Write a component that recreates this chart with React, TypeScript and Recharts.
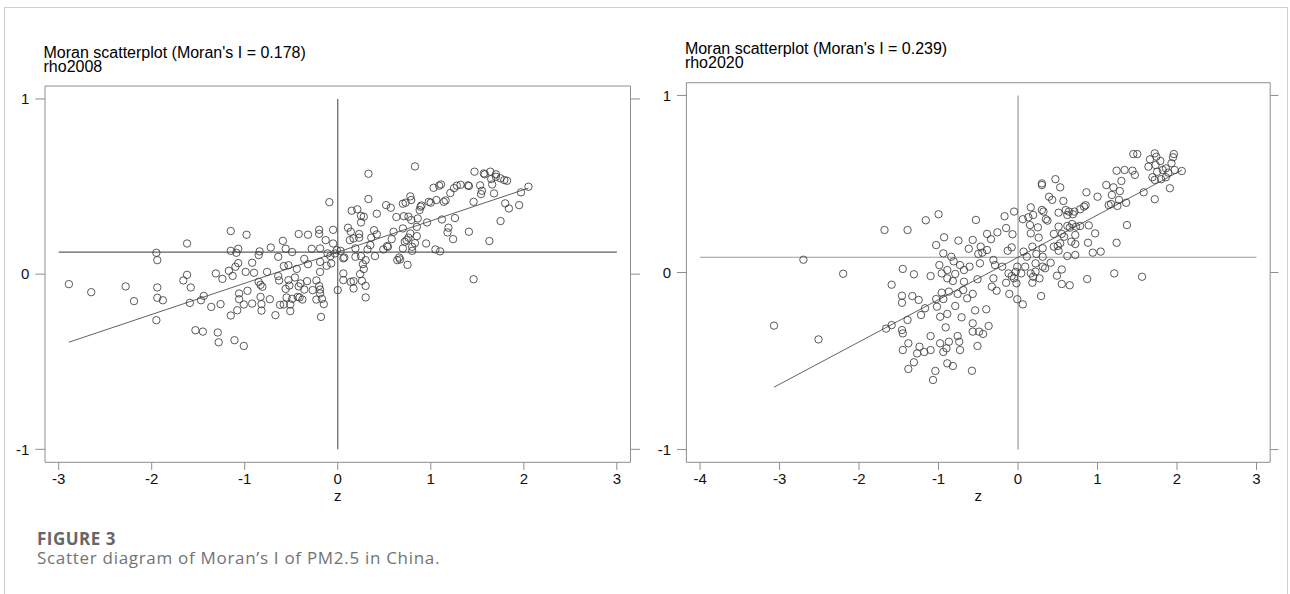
import { ScatterChart, Scatter, XAxis, YAxis, ReferenceLine } from "recharts"

// rho2008: standardised PM2.5 (z) against its spatial lag
const z2008 = [
  -2.89, -2.65, -2.28, -2.19, -1.95, -1.94, -1.94, -1.94, -1.88, -1.95, -1.62, -1.62, -1.66, -1.58, -1.59, -1.47,
  -1.44, -1.53, -1.45, -1.36, -1.31, -1.29, -1.28, -1.26, -1.24, -1.15, -1.15, -1.17, -1.13, -1.1, -1.07, -1.09,
  -1.07, -1.15, -1.08, -1.06, -1.06, -1.11, -1.01, -0.98, -0.99, -0.97, -1.01, -0.92, -0.92, -0.9, -0.84, -0.85,
  -0.85, -0.83, -0.81, -0.83, -0.82, -0.82, -0.76, -0.72, -0.73, -0.67, -0.64, -0.63, -0.64, -0.59, -0.56, -0.58,
  -0.53, -0.56, -0.55, -0.53, -0.52, -0.62, -0.58, -0.51, -0.51, -0.49, -0.49, -0.46, -0.44, -0.42, -0.42, -0.4,
  -0.41, -0.43, -0.38, -0.36, -0.36, -0.33, -0.32, -0.32, -0.28, -0.27, -0.23, -0.23, -0.2, -0.2, -0.19, -0.19,
  -0.19, -0.2, -0.19, -0.19, -0.17, -0.15, -0.18, -0.13, -0.12, -0.11, -0.05, -0.05, -0.07, -0.08, -0.03, 0.0,
  -0.01, -0.09,
  0.33, 0.83, 0.33, 0.15, 0.21, 0.25, 0.28, 0.25, 0.42, 0.52, 0.57, 0.63, 0.7, 0.73, 0.78, 0.79,
  0.71, 0.76, 0.79, 0.86, 0.89, 0.9, 0.88, 0.98, 1.0, 1.06, 1.03, 1.09, 1.11, 1.14, 1.16, 1.21,
  1.25, 1.28, 1.32, 1.4, 1.41, 1.46, 1.47, 1.53, 1.55, 1.54, 1.57, 1.58, 1.64, 1.65, 1.66, 1.68,
  1.7, 1.7, 1.75, 1.79, 1.82, 1.8, 1.84, 1.95, 1.97, 2.05, 1.75, 1.63, 1.41, 1.26, 1.24, 1.19,
  1.18, 1.12, 0.96, 0.95, 1.05, 1.1, 0.85, 0.85, 0.83, 0.78, 0.76, 0.74, 0.72, 0.8, 0.8, 0.7,
  0.6, 0.58, 0.53, 0.49, 0.42, 0.39, 0.4, 0.36, 0.35, 0.32, 0.23, 0.23, 0.19, 0.17, 0.14, 0.13,
  0.11, 0.07, 0.06, 0.06, 0.64, 0.66, 0.75, 0.67, 0.7, 0.54, 1.46, 0.3, 0.28, 0.27, 0.26, 0.3,
  0.24, 0.17, 0.17, 0.14, 0.3, 0.25, 0.19, 0.03, 0.06,
]
const lag2008 = [
  -0.057, -0.103, -0.07, -0.154, 0.122, 0.08, -0.076, -0.135, -0.149, -0.263, 0.175, -0.004, -0.036, -0.076, -0.164, -0.149,
  -0.124, -0.32, -0.328, -0.187, 0.004, -0.333, -0.389, -0.171, -0.027, 0.246, 0.133, 0.019, -0.01, 0.042, 0.063, 0.122,
  0.145, -0.236, -0.206, -0.11, -0.143, -0.377, -0.41, 0.225, 0.013, -0.095, -0.173, -0.168, 0.065, 0.008, 0.13, 0.109,
  -0.044, -0.061, -0.072, -0.13, -0.171, -0.208, 0.013, 0.152, -0.143, -0.234, -0.011, -0.036, 0.099, 0.19, 0.145, 0.046,
  0.051, -0.084, -0.133, -0.034, -0.065, -0.175, -0.173, -0.173, -0.211, 0.126, -0.141, -0.019, 0.03, 0.229, -0.07, -0.053,
  -0.133, -0.13, -0.145, 0.087, -0.088, -0.04, 0.225, 0.057, 0.145, -0.091, -0.036, -0.145, 0.253, 0.23, 0.147, 0.07,
  0.013, -0.067, -0.088, -0.11, -0.141, -0.171, -0.244, 0.194, 0.048, 0.118, 0.253, 0.175, 0.061, 0.103, 0.118, -0.091,
  0.137, 0.411,
  0.573, 0.615, 0.429, 0.362, 0.37, 0.333, 0.328, 0.295, 0.345, 0.394, 0.379, 0.326, 0.402, 0.408, 0.444, 0.423,
  0.331, 0.328, 0.309, 0.318, 0.385, 0.392, 0.366, 0.413, 0.408, 0.423, 0.493, 0.505, 0.512, 0.413, 0.421, 0.463,
  0.491, 0.505, 0.51, 0.507, 0.503, 0.413, 0.585, 0.507, 0.476, 0.457, 0.575, 0.57, 0.585, 0.543, 0.512, 0.461,
  0.57, 0.556, 0.547, 0.537, 0.533, 0.404, 0.375, 0.394, 0.467, 0.499, 0.303, 0.189, 0.242, 0.32, 0.2, 0.265,
  0.238, 0.312, 0.295, 0.175, 0.141, 0.13, 0.27, 0.217, 0.177, 0.232, 0.208, 0.194, 0.185, 0.156, 0.133, 0.261,
  0.242, 0.2, 0.16, 0.141, 0.227, 0.251, 0.103, 0.208, 0.166, 0.141, 0.229, 0.208, 0.147, 0.204, 0.242, 0.194,
  0.265, 0.095, 0.004, -0.034, 0.08, 0.095, 0.053, 0.084, 0.147, 0.156, -0.029, 0.08, 0.029, 0.057, -0.038, -0.067,
  0.0, -0.04, -0.082, -0.044, -0.133, 0.103, 0.099, 0.133, 0.09,
]
const moranI2008 = 0.178
const lagMean2008 = 0.126

// rho2020
const z2020 = [
  -3.07, -2.7, -2.51, -2.2, -1.68, -1.39, -1.16, -1.0, -1.59, -1.66, -1.59, -1.45, -1.31, -1.46, -1.46, -1.33,
  -1.25, -1.39, -1.46, -1.45, -1.22, -1.17, -1.1, -1.38, -1.45, -1.27, -1.24, -1.18, -1.1, -1.31, -1.38, -1.04,
  -1.07, -1.1, -0.98, -0.94, -0.9, -0.87, -0.89, -0.82, -0.91, -0.98, -0.89, -1.03, -1.02, -0.94, -0.96, -0.87,
  -0.79, -0.71, -0.76, -0.74, -0.73, -0.58, -0.51, -0.57, -0.49, -0.44, -0.37, -0.57, -0.54, -0.4, -0.64, -0.57,
  -0.69, -0.76, -0.82, -0.79, -0.89, -0.99, -0.96, -0.89, -0.94, -1.03, -0.93, -0.75, -0.84, -0.81, -0.73, -0.68,
  -0.61, -0.68, -0.62, -0.57, -0.53, -0.47, -0.45, -0.39, -0.48, -0.51, -0.39, -0.34, -0.26, -0.17, -0.15, -0.07,
  -0.05, -0.13, -0.08, -0.31, -0.29, -0.2, -0.31, -0.33, -0.27, -0.15, -0.11, -0.01, -0.08, -0.05, -0.02, -0.03,
  -0.12, -0.01, -0.5,
  1.45, 1.5, 1.72, 1.74, 1.96, 1.95, 1.66, 1.79, 1.93, 1.64, 1.73, 1.86, 2.06, 1.97, 1.75, 1.82,
  1.89, 1.69, 1.72, 1.8, 1.86, 1.91, 1.72, 1.58, 1.24, 1.34, 1.44, 1.47, 1.3, 1.11, 1.2, 1.28,
  1.18, 1.27, 1.17, 1.14, 1.25, 1.36, 1.37, 1.24, 1.0, 0.86, 0.83, 0.85, 0.78, 0.71, 0.69, 0.6,
  0.57, 0.64, 0.47, 0.3, 0.3, 0.53, 0.39, 0.43, 0.3, 0.32, 0.35, 0.37, 0.51, 0.62, 0.16, 0.19,
  0.06, 0.13, 0.15, 0.25, 0.16, 0.26, 0.45, 0.51, 0.55, 0.62, 0.65, 0.68, 0.73, 0.78, 0.89, 0.97,
  0.72, 0.67, 0.72, 0.58, 0.53, 0.5, 0.45, 0.51, 0.88, 0.94, 1.04, 0.62, 0.72, 0.31, 0.31, 0.23,
  0.18, 0.07, 0.11, 0.41, 0.31, 0.22, 0.09, 0.04, 0.16, 0.22, 0.19, 0.27, 0.18, 0.34, 0.49, 0.55,
  0.55, 0.65, 0.87, 1.21, 1.56, 0.29, 0.06,
]
const lag2020 = [
  -0.3, 0.072, -0.378, -0.007, 0.24, 0.24, 0.295, 0.329, -0.069, -0.317, -0.297, 0.02, -0.01, -0.131, -0.171, -0.133,
  -0.155, -0.268, -0.325, -0.344, -0.24, -0.202, -0.02, -0.4, -0.438, -0.457, -0.419, -0.449, -0.438, -0.507, -0.545, -0.556,
  -0.607, -0.359, -0.4, -0.449, -0.428, -0.391, -0.513, -0.528, -0.31, -0.25, -0.234, -0.15, -0.193, -0.15, -0.114, -0.108,
  -0.189, -0.253, -0.359, -0.391, -0.438, -0.555, -0.415, -0.334, -0.334, -0.347, -0.302, -0.287, -0.214, -0.208, -0.146, -0.121,
  -0.099, -0.121, -0.048, -0.008, 0.014, 0.042, -0.005, -0.033, 0.108, 0.155, 0.199, 0.18, 0.089, 0.063, 0.042, 0.014,
  0.033, -0.052, 0.134, 0.184, 0.297, 0.146, 0.112, 0.127, 0.052, -0.038, 0.218, 0.188, 0.227, 0.318, 0.251, 0.216,
  0.344, 0.123, 0.142, 0.071, 0.042, 0.033, -0.033, -0.08, -0.103, -0.058, -0.121, -0.151, -0.02, -0.033, -0.061, 0.004,
  -0.005, 0.033, 0.105,
  0.669, 0.669, 0.673, 0.654, 0.669, 0.651, 0.639, 0.63, 0.617, 0.598, 0.607, 0.588, 0.573, 0.579, 0.569, 0.579,
  0.564, 0.538, 0.523, 0.527, 0.538, 0.476, 0.414, 0.453, 0.575, 0.579, 0.575, 0.551, 0.517, 0.494, 0.481, 0.46,
  0.438, 0.41, 0.387, 0.381, 0.376, 0.394, 0.268, 0.168, 0.428, 0.453, 0.372, 0.38, 0.357, 0.344, 0.329, 0.353,
  0.404, 0.344, 0.527, 0.494, 0.503, 0.481, 0.428, 0.41, 0.353, 0.344, 0.301, 0.293, 0.338, 0.325, 0.368, 0.325,
  0.301, 0.312, 0.268, 0.255, 0.221, 0.197, 0.218, 0.259, 0.218, 0.263, 0.253, 0.274, 0.259, 0.263, 0.266, 0.221,
  0.212, 0.174, 0.161, 0.202, 0.165, 0.15, 0.146, 0.123, 0.168, 0.112, 0.118, 0.093, 0.099, 0.137, 0.089, 0.105,
  0.146, 0.118, 0.089, 0.055, 0.033, 0.052, 0.033, -0.005, -0.005, 0.005, -0.024, -0.033, -0.058, 0.024, -0.018, 0.017,
  -0.065, -0.072, -0.037, -0.005, -0.024, -0.133, -0.18,
]
const moranI2020 = 0.239
const lagMean2020 = 0.086

const xTicks2008 = [-3, -2, -1, 0, 1, 2, 3]
const xTicks2020 = [-4, -3, -2, -1, 0, 1, 2, 3]
const yTicks = [-1, 0, 1]

const sansFont = "'Liberation Sans', Arial, sans-serif"
const captionFont = "'Open Sans', 'Noto Sans', sans-serif"
const boxColor = "#8e8e8e"
const textStyle = { fontFamily: sansFont, fontSize: 15 }

// tick labels drawn by hand so the font is exactly what we ask for
const BottomTick = (p: any) => (
  <text x={p.x} y={p.y} dy={10.7} textAnchor="middle" fill="#111" style={textStyle}>
    {p.payload.value}
  </text>
)
const LeftTick = (p: any) => (
  <text x={p.x} y={p.y} dy={5.3} textAnchor="end" fill="#111" style={textStyle}>
    {p.payload.value}
  </text>
)
const noLabel = () => <g />

const zLabel = (p: any) => {
  const vb = p.viewBox
  return (
    <text
      x={vb.x + vb.width / 2}
      y={vb.y + 38.2}
      textAnchor="middle"
      fill="#111"
      style={textStyle}
    >
      z
    </text>
  )
}

const ring = (p: any) => (
  <circle cx={p.cx} cy={p.cy} r={3.7} fill="none" stroke="#3c3c3c" strokeWidth={0.85} />
)

type Layout = {
  left: number
  width: number
  height: number
  plotLeft: number
  plotRight: number
  plotTop: number
  plotBottom: number
  xPad: number
  yPad: number
  tickLeft: number
  tickRight: number
  tickTop: number
  guide: string
}

type PanelProps = {
  title: string
  varName: string
  z: number[]
  lag: number[]
  moranI: number
  lagMean: number
  xTicks: number[]
  layout: Layout
}

function MoranPanel({ title, varName, z, lag, moranI, lagMean, xTicks, layout: L }: PanelProps) {
  const points = z.map((v, i) => ({ z: v, lag: lag[i] }))
  const zMin = Math.min(...z)
  const zMax = Math.max(...z)
  const xDomain = [xTicks[0] - L.xPad, xTicks[xTicks.length - 1] + L.xPad]
  const yDomain = [-1 - L.yPad, 1 + L.yPad]

  return (
    <>
      <div
        style={{
          position: "absolute",
          left: L.plotLeft - 1.5,
          top: L.plotTop - 40.5,
          fontFamily: sansFont,
          fontSize: 16,
          lineHeight: "14.3px",
          color: "#000",
          whiteSpace: "nowrap",
        }}
      >
        <div>{title}</div>
        <div>{varName}</div>
      </div>
      <div style={{ position: "absolute", left: L.left, top: 0 }}>
        <ScatterChart
          width={L.width}
          height={L.height}
          margin={{ top: 0, right: 0, bottom: 0, left: 0 }}
        >
          <XAxis
            xAxisId="b"
            dataKey="z"
            type="number"
            domain={xDomain}
            ticks={xTicks}
            interval={0}
            allowDataOverflow
            height={L.height - L.plotBottom}
            tickSize={7.7}
            tickMargin={3.3}
            stroke={boxColor}
            tick={BottomTick}
            label={zLabel}
          />
          <XAxis
            xAxisId="t"
            orientation="top"
            type="number"
            domain={xDomain}
            ticks={xTicks}
            interval={0}
            allowDataOverflow
            height={L.plotTop}
            tickSize={L.tickTop}
            stroke={boxColor}
            tick={noLabel}
          />
          <YAxis
            yAxisId="l"
            dataKey="lag"
            type="number"
            domain={yDomain}
            ticks={yTicks}
            interval={0}
            allowDataOverflow
            width={L.plotLeft - L.left}
            tickSize={L.tickLeft}
            tickMargin={6}
            stroke={boxColor}
            tick={LeftTick}
          />
          <YAxis
            yAxisId="r"
            orientation="right"
            type="number"
            domain={yDomain}
            ticks={yTicks}
            interval={0}
            allowDataOverflow
            width={L.left + L.width - L.plotRight}
            tickSize={L.tickRight}
            stroke={boxColor}
            tick={noLabel}
          />
          <ReferenceLine
            xAxisId="b"
            yAxisId="l"
            segment={[{ x: xTicks[0], y: lagMean }, { x: xTicks[xTicks.length - 1], y: lagMean }]}
            stroke={L.guide}
            strokeWidth={1.2}
          />
          <ReferenceLine
            xAxisId="b"
            yAxisId="l"
            segment={[{ x: 0, y: yTicks[0] }, { x: 0, y: yTicks[yTicks.length - 1] }]}
            stroke={L.guide}
            strokeWidth={1.2}
          />
          <ReferenceLine
            xAxisId="b"
            yAxisId="l"
            segment={[
              { x: zMin, y: lagMean + moranI * zMin },
              { x: zMax, y: lagMean + moranI * zMax },
            ]}
            stroke="#3a3a3a"
            strokeWidth={0.8}
          />
          <Scatter
            data={points}
            xAxisId="b"
            yAxisId="l"
            shape={ring}
            isAnimationActive={false}
          />
        </ScatterChart>
      </div>
    </>
  )
}

const layout2008: Layout = {
  left: 0,
  width: 660,
  height: 520,
  plotLeft: 45,
  plotRight: 630.5,
  plotTop: 86,
  plotBottom: 462.3,
  xPad: 0.147,
  yPad: 0.074,
  tickLeft: 9.6,
  tickRight: 9.5,
  tickTop: 8.7,
  guide: "#5e5e5e",
}

const layout2020: Layout = {
  left: 640,
  width: 650,
  height: 520,
  plotLeft: 686.4,
  plotRight: 1270.2,
  plotTop: 82.7,
  plotBottom: 462.3,
  xPad: 0.172,
  yPad: 0.072,
  tickLeft: 9.4,
  tickRight: 8.3,
  tickTop: 9.4,
  guide: "#9a9a9a",
}

export default function App() {
  return (
    <div
      style={{
        position: "absolute",
        left: 0,
        top: 0,
        width: 1290,
        height: 594,
        overflow: "hidden",
        background: "#fff",
      }}
    >
      <div
        style={{
          position: "absolute",
          left: 4,
          top: 7,
          width: 1282,
          height: 640,
          borderTop: "1px solid #cfcfcf",
          borderLeft: "1px solid #cfcfcf",
          borderRight: "1px solid #cfcfcf",
        }}
      />
      <MoranPanel
        title="Moran scatterplot (Moran's I = 0.178)"
        varName="rho2008"
        z={z2008}
        lag={lag2008}
        moranI={moranI2008}
        lagMean={lagMean2008}
        xTicks={xTicks2008}
        layout={layout2008}
      />
      <MoranPanel
        title="Moran scatterplot (Moran's I = 0.239)"
        varName="rho2020"
        z={z2020}
        lag={lag2020}
        moranI={moranI2020}
        lagMean={lagMean2020}
        xTicks={xTicks2020}
        layout={layout2020}
      />
      <div
        style={{
          position: "absolute",
          left: 37,
          top: 529.9,
          fontFamily: captionFont,
          fontSize: 17,
          lineHeight: "17px",
          fontWeight: 700,
          letterSpacing: "0.5px",
          color: "#666",
        }}
      >
        FIGURE 3
      </div>
      <div
        style={{
          position: "absolute",
          left: 37,
          top: 548.6,
          fontFamily: captionFont,
          fontSize: 17,
          lineHeight: "17px",
          letterSpacing: "0.7px",
          color: "#737373",
          whiteSpace: "nowrap",
        }}
      >
        Scatter diagram of Moran’s I of PM2.5 in China.
      </div>
    </div>
  )
}
